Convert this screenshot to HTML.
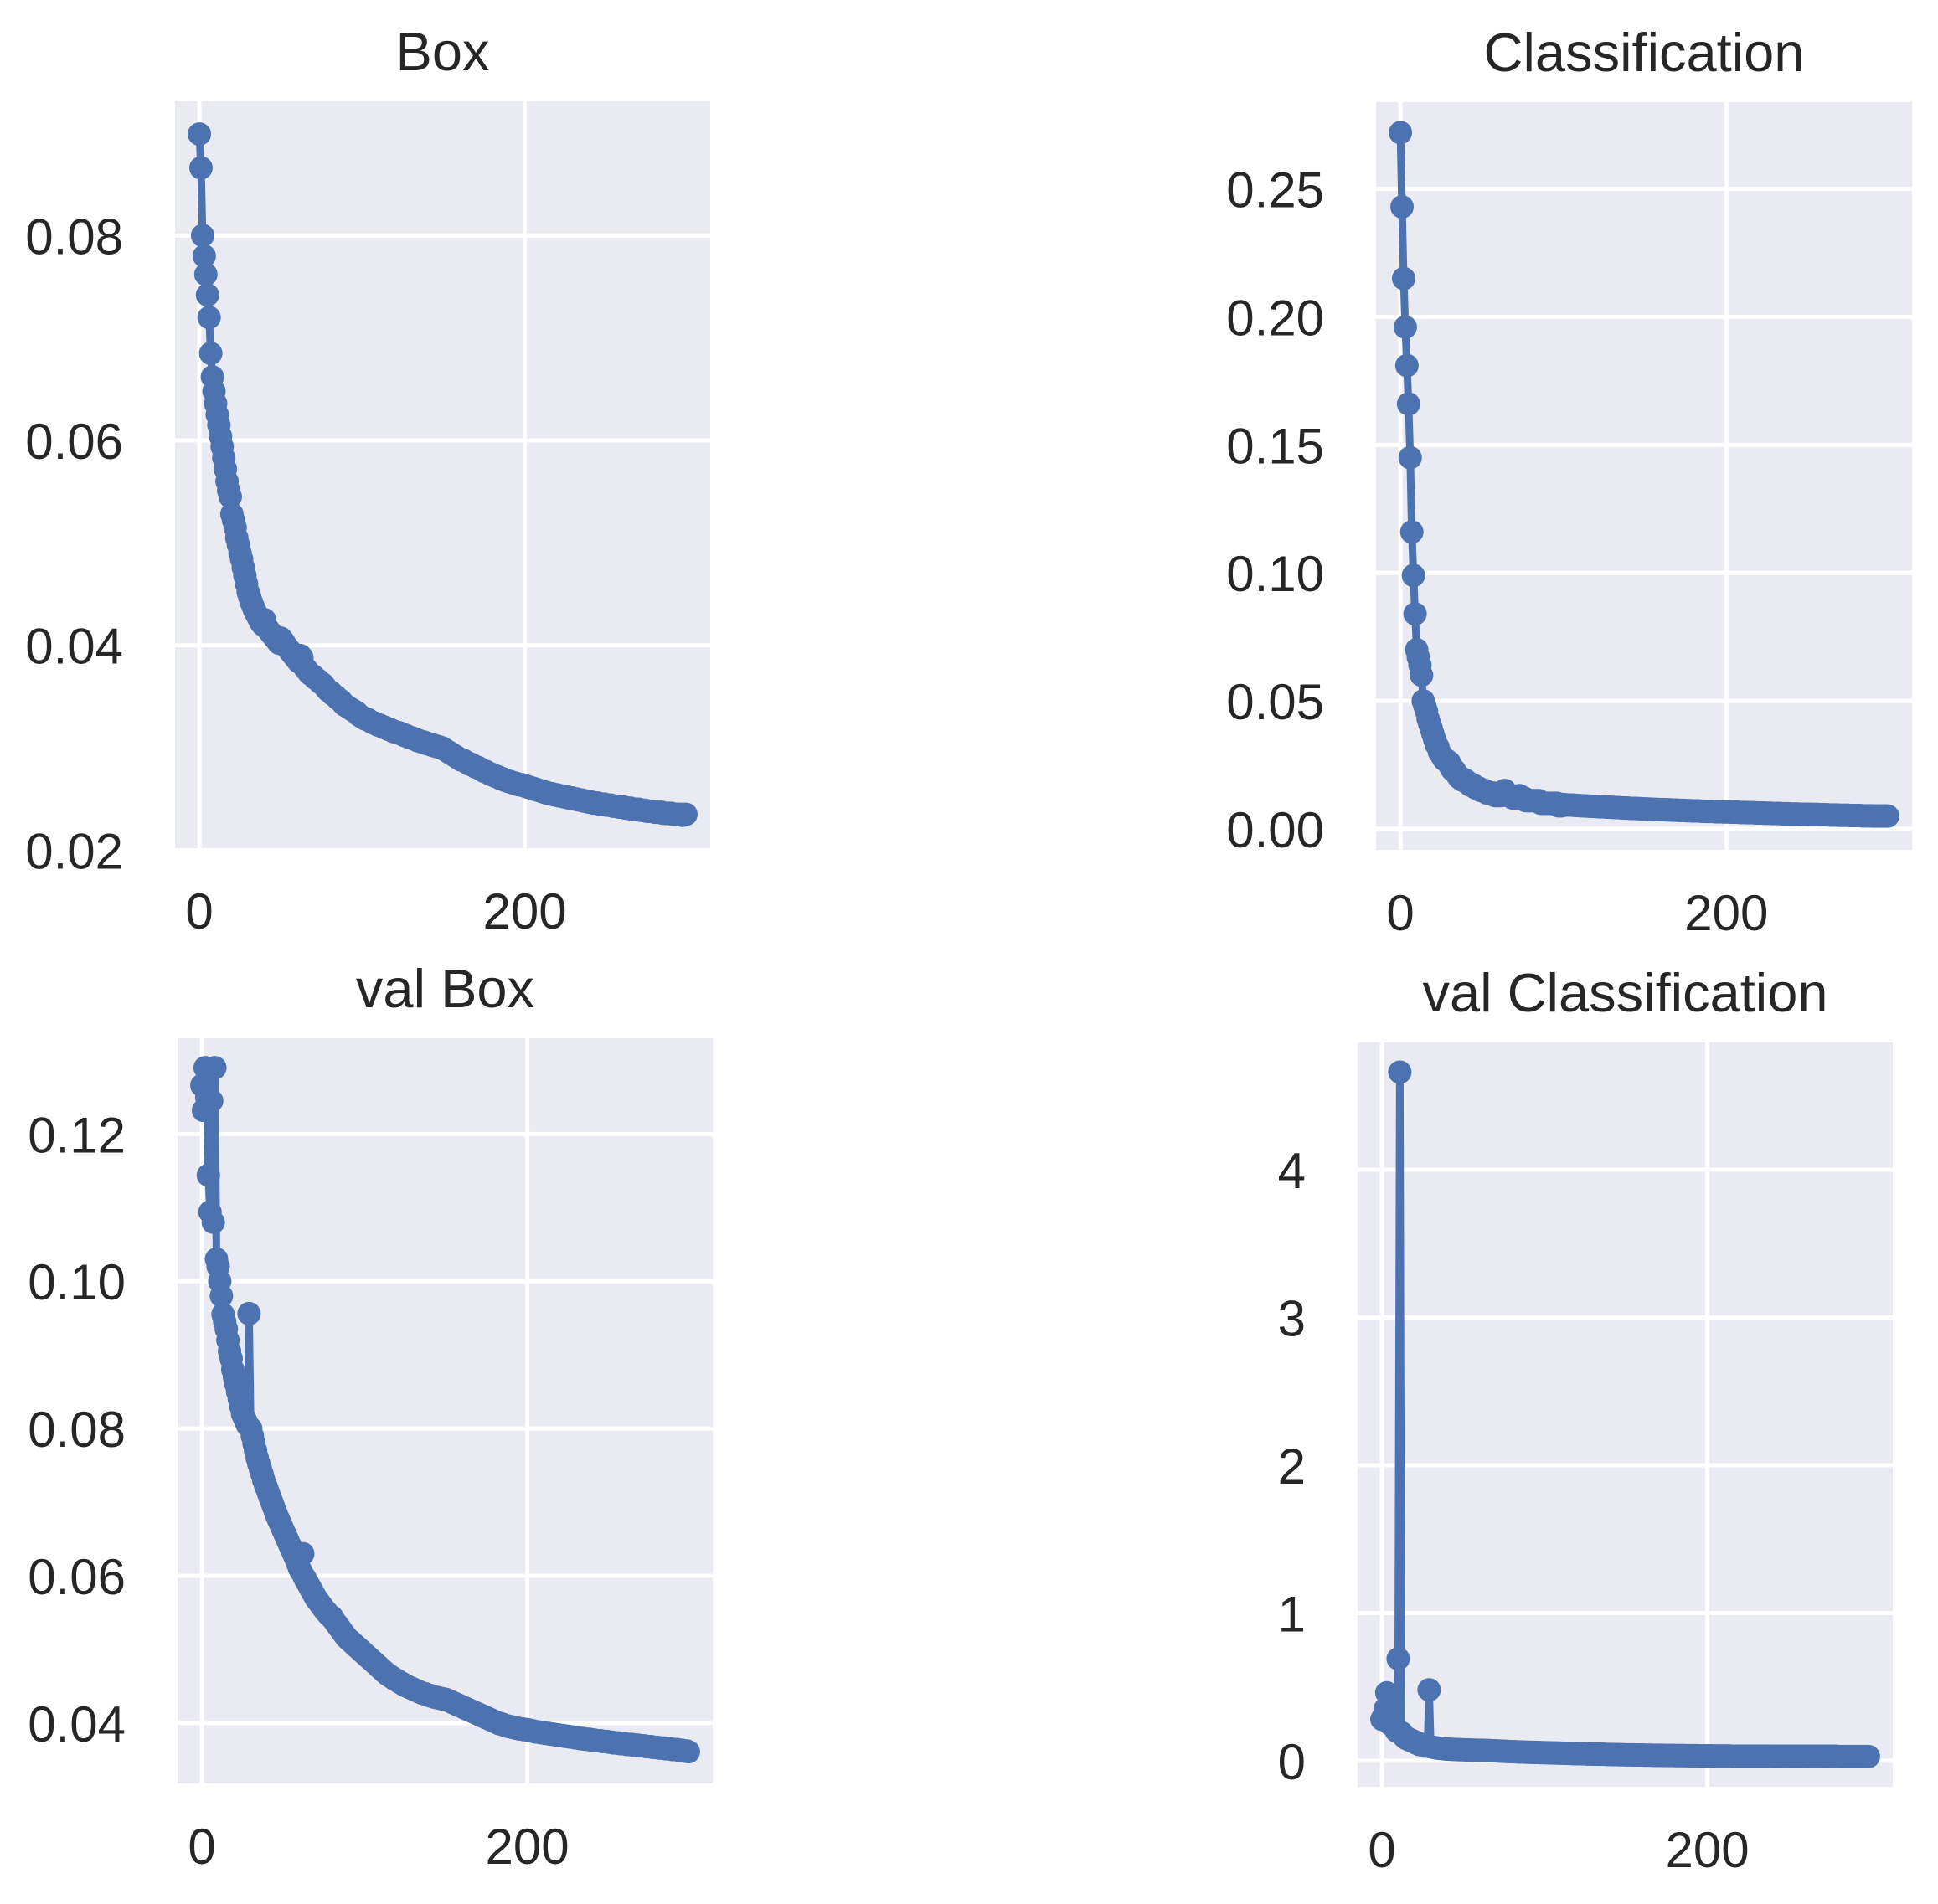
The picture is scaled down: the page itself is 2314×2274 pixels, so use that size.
<!DOCTYPE html>
<html><head><meta charset="utf-8"><style>
html,body{margin:0;padding:0;background:#fff;}
svg{display:block;}
text{font-family:"Liberation Sans",Arial,sans-serif;fill:#262626;}
</style></head><body>
<svg id="fig" width="2314" height="2274" viewBox="0 0 2314 2274" xmlns="http://www.w3.org/2000/svg"></svg>
<script>
const boxLoss=[.0899,.0866,.0800,.0780,.0762,.0742,.0720,.0685,.0662,.0648,
.0636,.0625,.0615,.0604,.0594,.0583,.0572,.0560,.0551,.0545,
.0528,.0522,.0515,.0505,.0498,.0490,.0484,.0476,.0468,.0460,
.0452,.0447,.0442,.0438,.0434,.0431,.0428,.0425,.0422,.0420,
.0425,.0418,.0416,.0414,.0412,.0410,.0408,.0406,.0404,.0402,
.0407,.0405,.0403,.0400,.0398,.0396,.0394,.0392,.0390,.0388,
.0386,.0384,.0390,.0388,.0380,.0378,.0376,.0374,.0372,.0371,
.0370,.0368,.0367,.0366,.0364,.0363,.0362,.0360,.0358,.0356,
.0355,.0354,.0352,.0351,.0350,.0348,.0347,.0346,.0344,.0342,
.0341,.0340,.0339,.0338,.0337,.0336,.0335,.0334,.0332,.0331,
.0330,.0329,.0328,.0328,.0327,.0326,.0325,.0324,.0324,.0323,
.0322,.0322,.0321,.0320,.0320,.0319,.0318,.0318,.0317,.0316,
.0316,.0315,.0315,.0314,.0314,.0313,.0312,.0312,.0311,.0310,
.0310,.0309,.0309,.0308,.0307,.0307,.0306,.0306,.0305,.0305,
.0304,.0304,.0303,.0303,.0302,.0302,.0301,.0301,.0300,.0300,
.0299,.0298,.0297,.0296,.0295,.0294,.0293,.0292,.0291,.0290,
.0289,.0288,.0288,.0287,.0286,.0285,.0284,.0284,.0283,.0282,
.0281,.0281,.0280,.0279,.0278,.0277,.0277,.0276,.0275,.0274,
.0274,.0273,.0272,.0272,.0271,.0270,.0270,.0269,.0268,.0268,
.0267,.0267,.0266,.0266,.0265,.0265,.0264,.0264,.0264,.0263,
.0263,.0262,.0262,.0261,.0261,.0260,.0260,.0259,.0259,.0258,
.0258,.0257,.0257,.0256,.0256,.0255,.0255,.0255,.0254,.0254,
.0254,.0253,.0253,.0253,.0252,.0252,.0252,.0251,.0251,.0251,
.0250,.0250,.0250,.0249,.0249,.0249,.0248,.0248,.0248,.0247,
.0247,.0247,.0246,.0246,.0246,.0246,.0245,.0245,.0245,.0245,
.0244,.0244,.0244,.0244,.0243,.0243,.0243,.0243,.0242,.0242,
.0242,.0242,.0241,.0241,.0241,.0241,.0240,.0240,.0240,.0240,
.0240,.0239,.0239,.0239,.0239,.0238,.0238,.0238,.0238,.0238,
.0237,.0237,.0237,.0237,.0237,.0236,.0236,.0236,.0236,.0236,
.0236,.0235,.0235,.0235,.0235,.0235,.0235,.0234,.0235,.0235];
const classLoss=[.272,.243,.215,.196,.181,.166,.145,.116,.099,.084,
.070,.067,.064,.060,.050,.048,.046,.043,.041,.039,
.037,.035,.033,.032,.030,.029,.028,.027,.027,.026,
.026,.024,.023,.023,.022,.021,.020,.020,.019,.019,
.019,.018,.018,.017,.017,.017,.016,.016,.016,.015,
.015,.015,.015,.014,.014,.014,.014,.014,.013,.013,
.013,.013,.013,.014,.015,.014,.013,.013,.013,.012,
.012,.012,.012,.013,.012,.012,.012,.011,.011,.011,
.011,.011,.011,.011,.011,.011,.010,.010,.010,.010,
.010,.010,.010,.010,.010,.010,.010,.009,.009,.009,
.0095,.0094,.0094,.0093,.0093,.0093,.0092,.0092,.0091,.0091,
.0091,.0090,.0090,.0090,.0089,.0089,.0089,.0088,.0088,.0088,
.0087,.0087,.0087,.0086,.0086,.0086,.0085,.0085,.0085,.0084,
.0084,.0084,.0083,.0083,.0083,.0082,.0082,.0082,.0081,.0081,
.0081,.0080,.0080,.0080,.0080,.0079,.0079,.0079,.0078,.0078,
.0078,.0078,.0077,.0077,.0077,.0076,.0076,.0076,.0076,.0075,
.0075,.0075,.0075,.0074,.0074,.0074,.0074,.0073,.0073,.0073,
.0073,.0072,.0072,.0072,.0072,.0071,.0071,.0071,.0071,.0070,
.0070,.0070,.0070,.0070,.0069,.0069,.0069,.0069,.0068,.0068,
.0068,.0068,.0068,.0067,.0067,.0067,.0067,.0067,.0066,.0066,
.0066,.0066,.0066,.0065,.0065,.0065,.0065,.0065,.0064,.0064,
.0064,.0064,.0064,.0063,.0063,.0063,.0063,.0063,.0062,.0062,
.0062,.0062,.0062,.0061,.0061,.0061,.0061,.0061,.0060,.0060,
.0060,.0060,.0060,.0060,.0059,.0059,.0059,.0059,.0059,.0058,
.0058,.0058,.0058,.0058,.0058,.0057,.0057,.0057,.0057,.0057,
.0057,.0056,.0056,.0056,.0056,.0056,.0056,.0055,.0055,.0055,
.0055,.0055,.0055,.0054,.0054,.0054,.0054,.0054,.0054,.0053,
.0053,.0053,.0053,.0053,.0053,.0053,.0052,.0052,.0052,.0052,
.0052,.0052,.0052,.0051,.0051,.0051,.0051,.0051,.0051,.0051,
.0050,.0050,.0050,.0050,.0050,.0050,.0050,.0050,.0050,.0050];
const valBoxLoss=[.1266,.1232,.1290,.1250,.1144,.1094,.1245,.1080,.1290,.1030,
.1020,.1000,.0980,.0955,.0945,.0935,.0920,.0905,.0895,.0880,
.0870,.0860,.0850,.0840,.0830,.0820,.0815,.0810,.0805,.0956,
.0800,.0790,.0780,.0770,.0760,.0752,.0745,.0738,.0730,.0724,
.0718,.0712,.0706,.0700,.0694,.0688,.0682,.0677,.0672,.0667,
.0662,.0657,.0652,.0647,.0642,.0637,.0632,.0627,.0622,.0616,
.0610,.0606,.0630,.0598,.0594,.0590,.0586,.0582,.0578,.0574,
.0570,.0567,.0564,.0561,.0558,.0555,.0552,.0550,.0547,.0545,
.0544,.0540,.0537,.0534,.0531,.0528,.0525,.0522,.0519,.0516,
.0514,.0512,.0510,.0508,.0506,.0504,.0502,.0500,.0498,.0496,
.0494,.0492,.0490,.0488,.0486,.0484,.0482,.0480,.0478,.0476,
.0474,.0472,.0470,.0468,.0466,.0465,.0463,.0462,.0460,.0459,
.0458,.0456,.0455,.0454,.0452,.0451,.0450,.0449,.0448,.0447,
.0446,.0445,.0444,.0443,.0442,.0441,.0440,.0440,.0439,.0438,
.0437,.0437,.0436,.0435,.0435,.0434,.0434,.0433,.0433,.0432,
.0432,.0431,.0430,.0429,.0428,.0427,.0426,.0425,.0424,.0423,
.0422,.0421,.0420,.0419,.0418,.0417,.0416,.0415,.0414,.0413,
.0412,.0411,.0410,.0409,.0408,.0407,.0406,.0405,.0404,.0403,
.0402,.0401,.0400,.0399,.0399,.0398,.0397,.0396,.0396,.0395,
.0395,.0394,.0394,.0393,.0393,.0392,.0392,.0392,.0391,.0391,
.0391,.0390,.0390,.0389,.0389,.0388,.0388,.0388,.0387,.0387,
.0387,.0386,.0386,.0386,.0385,.0385,.0385,.0384,.0384,.0384,
.0383,.0383,.0383,.0382,.0382,.0382,.0381,.0381,.0381,.0380,
.0380,.0380,.0379,.0379,.0379,.0378,.0378,.0378,.0378,.0377,
.0377,.0377,.0376,.0376,.0376,.0376,.0375,.0375,.0375,.0375,
.0374,.0374,.0374,.0373,.0373,.0373,.0373,.0372,.0372,.0372,
.0372,.0371,.0371,.0371,.0371,.0370,.0370,.0370,.0370,.0369,
.0369,.0369,.0369,.0368,.0368,.0368,.0368,.0367,.0367,.0367,
.0367,.0366,.0366,.0366,.0366,.0365,.0365,.0365,.0365,.0364,
.0364,.0364,.0364,.0363,.0363,.0363,.0362,.0362,.0362,.0361];
const valClassLoss=[.28,.30,.35,.46,.30,.25,.27,.24,.22,.20,
.69,4.66,.19,.17,.16,.15,.15,.14,.14,.13,
.13,.12,.12,.11,.11,.11,.10,.10,.10,.48,
.095,.092,.090,.088,.086,.085,.083,.082,.081,.080,
.079,.078,.078,.077,.077,.076,.076,.075,.075,.075,
.074,.074,.073,.073,.073,.072,.072,.072,.071,.071,
.071,.071,.070,.070,.070,.069,.069,.068,.068,.067,
.067,.066,.066,.065,.065,.064,.064,.063,.063,.062,
.062,.061,.061,.060,.060,.060,.059,.059,.058,.058,
.058,.057,.057,.057,.056,.056,.056,.055,.055,.055,
.055,.054,.054,.054,.053,.053,.053,.052,.052,.052,
.051,.051,.051,.050,.050,.050,.049,.049,.049,.048,
.048,.048,.048,.047,.047,.047,.046,.046,.046,.046,
.045,.045,.045,.045,.044,.044,.044,.044,.043,.043,
.043,.043,.042,.042,.042,.042,.041,.041,.041,.041,
.040,.040,.040,.040,.040,.039,.039,.039,.039,.039,
.039,.038,.038,.038,.038,.038,.038,.037,.037,.037,
.037,.037,.037,.036,.036,.036,.036,.036,.036,.036,
.035,.035,.035,.035,.035,.035,.035,.034,.034,.034,
.034,.034,.034,.034,.034,.033,.033,.033,.033,.033,
.033,.033,.033,.033,.032,.032,.032,.032,.032,.032,
.032,.032,.032,.032,.032,.031,.031,.031,.031,.031,
.031,.031,.031,.031,.031,.031,.031,.031,.031,.031,
.031,.031,.031,.031,.031,.031,.031,.031,.031,.031,
.030,.030,.030,.030,.030,.030,.030,.030,.030,.030,
.030,.030,.030,.030,.030,.030,.030,.030,.030,.030,
.030,.030,.030,.030,.030,.030,.030,.030,.030,.030,
.030,.030,.030,.030,.030,.030,.030,.030,.030,.030,
.029,.029,.029,.029,.029,.029,.029,.029,.029,.029,
.029,.029,.029,.029,.029,.029,.029,.029,.029,.029];
const xTicks=[0,200];
const boxTicks=[0.02,0.04,0.06,0.08];
const boxTickLabels=["0.02","0.04","0.06","0.08"];
const classTicks=[0,0.05,0.10,0.15,0.20,0.25];
const classTickLabels=["0.00","0.05","0.10","0.15","0.20","0.25"];
const valBoxTicks=[0.04,0.06,0.08,0.10,0.12];
const valBoxTickLabels=["0.04","0.06","0.08","0.10","0.12"];
const valClassTicks=[0,1,2,3,4];
const valClassTickLabels=["0","1","2","3","4"];

const NS="http://www.w3.org/2000/svg";
const svg=document.getElementById('fig');
function mk(tag,attrs,parent){const e=document.createElementNS(NS,tag);for(const k in attrs)e.setAttribute(k,attrs[k]);(parent||svg).appendChild(e);return e;}

function panel(cfg){
  const g=mk('g',{});
  
  
  const L=cfg.L,R=cfg.R,T=cfg.T,B=cfg.B;
  const n=cfg.data.length;
  const xmin=-0.05*(n-1),xmax=1.05*(n-1);
  const sx=v=>L+(v-xmin)/(xmax-xmin)*(R-L);
  const sy=v=>B-(v-cfg.ymin)/(cfg.ymax-cfg.ymin)*(B-T);
  const bg=mk('rect',{x:L,y:T,width:R-L,height:B-T,fill:'#EAEAF2'},g);
  
  
  cfg.yTicks.forEach((t,i)=>{
    const y=sy(t);
    const gl=mk('line',{x1:L,x2:R,y1:y,y2:y,stroke:'#fff','stroke-width':5},g);
    
    
    const tx=mk('text',{x:L-62,y:y+22,'text-anchor':'end','font-size':60},g);
    tx.textContent=cfg.yLabels[i];
    
    
  });
  xTicks.forEach(t=>{
    const x=sx(t);
    const gl=mk('line',{x1:x,x2:x,y1:T,y2:B,stroke:'#fff','stroke-width':5},g);
    
    
    const tx=mk('text',{x:x,y:B+96,'text-anchor':'middle','font-size':60},g);
    tx.textContent=String(t);
    
    
  });
  const title=mk('text',{x:(L+R)/2,y:T-37,'text-anchor':'middle','font-size':65},g);
  title.textContent=cfg.title;
  
  
  const pts=cfg.data.map((v,i)=>sx(i).toFixed(1)+','+sy(v).toFixed(1)).join(' ');
  const line=mk('polyline',{points:pts,fill:'none',stroke:'#4C72B0','stroke-width':9,'stroke-linejoin':'round'},g);
  
  
  const mg=mk('g',{fill:'#4C72B0'},g);
  
  
  cfg.data.forEach((v,i)=>{
    const c=mk('circle',{cx:sx(i),cy:sy(v),r:14},mg);
    
    
  });
}
panel({name:'box',title:'Box',data:boxLoss,L:209,R:848,T:121,B:1013,ymin:0.0202,ymax:0.0931,yTicks:boxTicks,yLabels:boxTickLabels});
panel({name:'classification',title:'Classification',data:classLoss,L:1643,R:2283,T:122,B:1015,ymin:-0.0082,ymax:0.2839,yTicks:classTicks,yLabels:classTickLabels});
panel({name:'val-box',title:'val Box',data:valBoxLoss,L:212,R:851,T:1240,B:2130,ymin:0.0318,ymax:0.1330,yTicks:valBoxTicks,yLabels:valBoxTickLabels});
panel({name:'val-classification',title:'val Classification',data:valClassLoss,L:1621,R:2260,T:1245,B:2134,ymin:-0.176,ymax:4.861,yTicks:valClassTicks,yLabels:valClassTickLabels});
</script>
</body></html>
